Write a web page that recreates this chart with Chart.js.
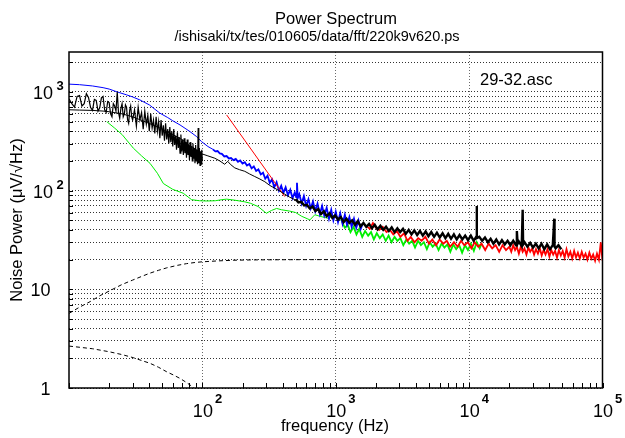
<!DOCTYPE html>
<html><head><meta charset="utf-8">
<script src="https://cdn.jsdelivr.net/npm/chart.js@4.4.1/dist/chart.umd.min.js"></script>
<style>html,body{margin:0;padding:0;background:#fff;}canvas{display:block;}</style>
</head><body>
<canvas id="c" width="625" height="438" style="width:625px;height:438px"></canvas>
<script>
// ---------- texts ----------
const titleText = 'Power Spectrum';
const subtitleText = '/ishisaki/tx/tes/010605/data/fft/220k9v620.ps';
const annotationText = '29-32.asc';
const xAxisTitle = 'frequency (Hz)';
const yAxisTitle = 'Noise Power (\u03bcV/\u221aHz)';

// ---------- axes ----------
const xMin = 10, xMax = 100000;
const yMin = 1, yMax = 2540;
const xTickMarks = [10,20,30,40,50,60,70,80,90,100,200,300,400,500,600,700,800,900,1000,2000,3000,4000,5000,6000,7000,8000,9000,10000,20000,30000,40000,50000,60000,70000,80000,90000,100000];
const xGridValues = [100,1000,10000];
const yGridValues = [1,2,3,4,5,6,7,8,9,10,20,30,40,50,60,70,80,90,100,200,300,400,500,600,700,800,900,1000,2000];
const xLabelValues = [100,1000,10000,100000];
const xLabelBase = ['10','10','10','10'];
const xLabelExp = ['2','3','4','5'];
const yLabelValues = [1,10,100,1000];
const yLabelBase = ['1','10','10','10'];
const yLabelExp = ['','','2','3'];

// ---------- data ----------
const blackLowFreq = [10,10.5,11,11.5,12,12.5,13,13.5,14,14.5,15,15.5,16,16.5,17,17.5,18,18.5,19,19.5,20,20.5,21,21.5,22,22.5,23,23.5,24,24.5,25,25.5,26,26.5,27,27.5,28,28.5,29,29.5,30,31,32,33,34,35,36,37,38,39,40,41,42,43,44,45,46,47,48,49,50,51,52,53,54,55,56,57,58,59,60,61,62,63,64,65,66,67,68,69,70,71,72,73,74,75,76,77,78,79,80,81,82,83,84,85,86,87,88,89,90,91,92,93,94,95,96,97,98,99,100];
const blackLowVals = [850,760,700,900,920,720,760,960,880,700,650,840,820,640,690,870,900,660,620,800,780,600,560,760,720,640,1000,620,540,680,760,560,600,740,700,520,480,650,720,560,520,660,450,700,520,620,420,640,470,580,400,600,430,520,380,560,400,500,340,520,360,460,320,480,330,420,300,440,310,400,280,420,290,360,260,390,270,350,240,370,250,330,230,340,240,310,215,330,230,290,205,310,220,280,200,300,210,270,190,290,200,260,185,430,190,270,180,250,185,260,200];

const blackSmoothFreq = [10,12,15,18,20,25,30,40,50,60,70,80,90,100,110,124,135,147,155,162,175,190,208,225,247,270,294,320,348,380,415,450,494,550,600];
const blackSmoothVals = [660,655,650,640,630,600,560,480,420,370,330,290,260,235,225,213,200,185,198,185,170,163,157,148,139,131,123,113,106,99,92,86,81,75,70];

const blackHighFreq = [500,525,551,579,608,638,670,704,739,776,815,855,898,943,990,1040,1092,1146,1204,1264,1327,1393,1463,1536,1613,1694,1778,1867,1961,2059,2162,2270,2383,2502,2627,2759,2897,3041,3193,3353,3521,3697,3882,4076,4280,4494,4718,4954,5202,5462,5735,6022,6323,6639,6971,7320,7686,8070,8474,8897,9342,9809,10300,10815,11356,11400,11440,11924,12520,13146,13803,14493,15218,15979,16778,17617,18498,19423,20394,21413,22484,22800,23100,23608,24789,25200,25400,26028,27330,28696,30131,31637,33219,34880,36624,38455,40378,42397,43500,43700,44517,46742,49079];
const blackHighVals = [82,76,77,71,72,66,69,62,65,58,62,55,59,53,56,51,54,48,52,47,50,45,49,43.5,47,43,46,41.5,45,40.5,44,40,43,39,42.5,38,41.5,38,41,36.5,40,36,39.5,35.5,39,35,38.5,34.5,38,34,37.5,33.5,37,33,36.5,32.5,36,32,35.5,32,35,31.5,35,31,34.5,70,33,34,31,33.5,30,32.5,29,32,28.5,31.5,28.5,31,28,31,28,39,29,30.5,27.5,64,28.5,30,27,29.5,26.5,29,26,29,25.5,28.5,25.5,28,52,27,26,28,25.5];

const blueSmoothFreq = [10,12,15,18,20,23,27,30,34,40,48,55,60,68,80,90,98.6,110,120];
const blueSmoothVals = [1200,1185,1150,1105,1070,1000,935,890,830,740,610,550,510,463,400,355,314,280,262];
const blueNoiseFreq = [120,125,130,135,140,146,152,158,164,171,178,185,192,200,208,216,225,234,243,253,263,274,285,296,308,320,333,346,360,375,390,405,421,438,456,474,493,505,512,519,533,555,577,600,624,649,675,702,730,760,790,820,855,890,925,960,1000,1040,1080,1125,1170,1215,1265,1315,1370,1425,1480,1540,1600];
const blueNoiseVals = [262,250,252,238,236,222,224,212,214,204,210,196,202,188,194,180,186,168,176,158,164,146,152,132,142,120,130,108,122,100,112,95,108,90,102,84,96,86,120,84,92,74,88,70,82,66,78,62,74,58,70,56,67,52,64,50,61,48,59,46,57,45,54,43,52,42,50,41,47];

const greenSmoothFreq = [19.2,22,25,30.4,35,40.5,46,51,60,72,83,95,108,125,140,152,175,208,229,262,280,302,330,360,392,452,500,555,610,640,697,760,875,985,1110];
const greenSmoothVals = [500,430,370,269,225,189,150,118,103,94,81,79,78.5,79,81,82,80,77,74.5,69,64,59,63,66,64,62,60,55,52,50.5,57,55,52.5,56.8,49];
const greenNoiseFreq = [1110,1170,1230,1290,1360,1430,1500,1580,1660,1750,1840,1930,2030,2140,2250,2370,2490,2620,2760,2900,3050,3210,3380,3550,3740,3930,4140,4350,4580,4820,5070,5330,5610,5900,6210,6530,6870,7230,7600,8000,8420,8860,9320,9800,10300,10850,11400,12000,12400];
const greenNoiseVals = [49,42,45,38,43,36,41,34,39,35,38,32,37,33,36,31,35,30,34,31,33,28,32,29,31,26.5,31,28,30,25.5,30,27,29,25,29,26.5,28.5,24,28.5,25.5,28,23.5,28,25,29,24.5,30,26,29];

const redLineFreq = [152,415];
const redLineVals = [585,87];

const redNoiseFreq = [1700,1800,1900,2000,2120,2250,2400,2550,2700,2870,3050,3250,3450,3650,3900,4150,4400,4700,5000,5300,5650,6000,6400,6800,7200,7700,8200,8700,9200,9800,10400,11000,11700,12400,13200,14000,14900,15800,16800,17800,18900,20000,20700,21400,22100,22800,23600,24400,25200,26000,26900,27800,28700,29700,30700,31700,32800,33900,35000,36200,37400,38700,40000,41300,42700,44100,45600,47100,48700,50300,52000,53700,55500,57400,59300,61300,63300,65400,67600,69900,72200,74600,77100,79700,82400,85100,88000,90900,94000,97100,100000];
const redNoiseVals = [44,41,47,42,40,43,38,40,36,39,34,37,31,34,30,33,31,34,29,32,28,32,29,31,27,30,27,31,28,30,26,30,27,29,25,29,26,28,24,28,25,27,24,28,25,27,23,27,24,26,22.5,26.5,24,26,22.5,25.5,23,26,22,25,22.5,25.5,21.5,25,22.5,24.5,21,25,22,24.5,21,25.5,21.5,24,20.5,24.5,21,23.5,20.5,24,21,23,20,23.5,20.5,22.5,19.5,23,20,30,19.5];

const dashUpperFreq = [10,12,14.4,17,20,25,30,35,40,47,54,65,76,88,100,130,170,230,300,500,1000,100000];
const dashUpperVals = [5.7,6.6,7.5,8.6,9.6,11.2,12.4,13.5,14.5,15.6,16.5,17.5,18.2,18.7,19.0,19.4,19.7,19.85,19.9,19.97,20,20];
const dashLowerFreq = [10,15,20,25,30.3,35,40.5,47,54,61,68,75,81,88];
const dashLowerVals = [2.66,2.5,2.33,2.18,2.03,1.9,1.78,1.62,1.46,1.35,1.25,1.15,1.07,0.98];

// ---------- build ----------
function pts(fs, vs) { return fs.map((f, i) => ({x: f, y: vs[i]})); }
const FONT = '"Liberation Sans", Arial, Helvetica, sans-serif';

const decor = {
  id: 'decor',
  afterDraw(chart) {
    const {ctx, chartArea: a, scales: {x, y}} = chart;
    ctx.save();
    ctx.strokeStyle = '#000';
    ctx.lineWidth = 1;
    ctx.beginPath();
    xTickMarks.forEach(v => {
      const px = Math.round(x.getPixelForValue(v)) + 0.5;
      ctx.moveTo(px, a.bottom); ctx.lineTo(px, a.bottom - 5);
    });
    yGridValues.forEach(v => {
      const py = Math.round(y.getPixelForValue(v)) + 0.5;
      ctx.moveTo(a.left, py); ctx.lineTo(a.left + 4, py);
    });
    ctx.stroke();
    ctx.lineWidth = 1.5;
    ctx.strokeRect(a.left, a.top, a.right - a.left, a.bottom - a.top);

    ctx.fillStyle = '#000';
    ctx.textBaseline = 'alphabetic';
    ctx.textAlign = 'center';
    ctx.font = '16.5px ' + FONT;
    ctx.fillText(titleText, 336, 24);
    ctx.font = '14.5px ' + FONT;
    ctx.fillText(subtitleText, 317, 41);
    ctx.font = '16.5px ' + FONT;
    ctx.fillText(xAxisTitle, 335, 431);
    ctx.textAlign = 'left';
    ctx.fillText(annotationText, 480, 85);
    ctx.save();
    ctx.translate(22, (a.top + a.bottom) / 2);
    ctx.rotate(-Math.PI / 2);
    ctx.textAlign = 'center';
    ctx.fillText(yAxisTitle, 0, 0);
    ctx.restore();

    xLabelValues.forEach((v, i) => {
      const px = x.getPixelForValue(v);
      ctx.font = '18px ' + FONT;
      ctx.textAlign = 'center';
      ctx.fillText(xLabelBase[i], px + 0.5, 417);
      ctx.font = 'bold 13px ' + FONT;
      ctx.textAlign = 'left';
      ctx.fillText(xLabelExp[i], px + 12.5, 403);
    });
    yLabelValues.forEach((v, i) => {
      const py = y.getPixelForValue(v);
      ctx.font = '18px ' + FONT;
      ctx.textAlign = 'right';
      if (yLabelExp[i]) {
        ctx.fillText(yLabelBase[i], 53, py + 7);
        ctx.font = 'bold 13px ' + FONT;
        ctx.textAlign = 'left';
        ctx.fillText(yLabelExp[i], 56.5, py - 1.5);
      } else {
        ctx.fillText(yLabelBase[i], 50.5, py + 7);
      }
    });
    ctx.restore();
  }
};

function ds(data, color, width, extra) {
  return Object.assign({data, borderColor: color, backgroundColor: color, borderWidth: width,
    showLine: true, pointRadius: 0, pointHoverRadius: 0, tension: 0, fill: false}, extra || {});
}

new Chart(document.getElementById('c'), {
  type: 'scatter',
  data: {
    datasets: [
      ds(pts(blackHighFreq, blackHighVals), '#000000', 2.4),
      ds(pts(blackLowFreq, blackLowVals), '#000000', 1.2),
      ds(pts(blackSmoothFreq, blackSmoothVals), '#000000', 1),
      ds(pts(redLineFreq, redLineVals), '#ff0000', 1),
      ds(pts(redNoiseFreq, redNoiseVals), '#ff0000', 1.8),
      ds(pts(blueNoiseFreq, blueNoiseVals), '#0000ff', 1.8),
      ds(pts(blueSmoothFreq, blueSmoothVals), '#0000ff', 1),
      ds(pts(greenNoiseFreq, greenNoiseVals), '#00ee00', 1.8),
      ds(pts(greenSmoothFreq, greenSmoothVals), '#00ee00', 1),
      ds(pts(dashUpperFreq, dashUpperVals), '#000000', 1, {borderDash: [4, 3]}),
      ds(pts(dashLowerFreq, dashLowerVals), '#000000', 1, {borderDash: [4, 3]})
    ]
  },
  options: {
    responsive: false,
    animation: false,
    events: [],
    layout: {padding: {left: 0, right: 22.5, top: 52, bottom: 0}},
    scales: {
      x: {
        type: 'logarithmic', min: xMin, max: xMax,
        afterBuildTicks: s => { s.ticks = xTickMarks.map(v => ({value: v})); },
        afterFit: s => { s.height = 50; },
        ticks: {display: false},
        border: {display: false, dash: [1, 2]},
        grid: {drawTicks: false, lineWidth: 1,
          color: c => (c.tick && xGridValues.includes(c.tick.value)) ? '#6a6a6a' : 'rgba(0,0,0,0)'}
      },
      y: {
        type: 'logarithmic', min: yMin, max: yMax,
        afterBuildTicks: s => { s.ticks = yGridValues.map(v => ({value: v})); },
        afterFit: s => { s.width = 69; },
        ticks: {display: false},
        border: {display: false, dash: [1, 2]},
        grid: {drawTicks: false, lineWidth: 1, color: '#333333'}
      }
    },
    plugins: {legend: {display: false}, title: {display: false}, tooltip: {enabled: false}}
  },
  plugins: [decor]
});
</script>
</body></html>
